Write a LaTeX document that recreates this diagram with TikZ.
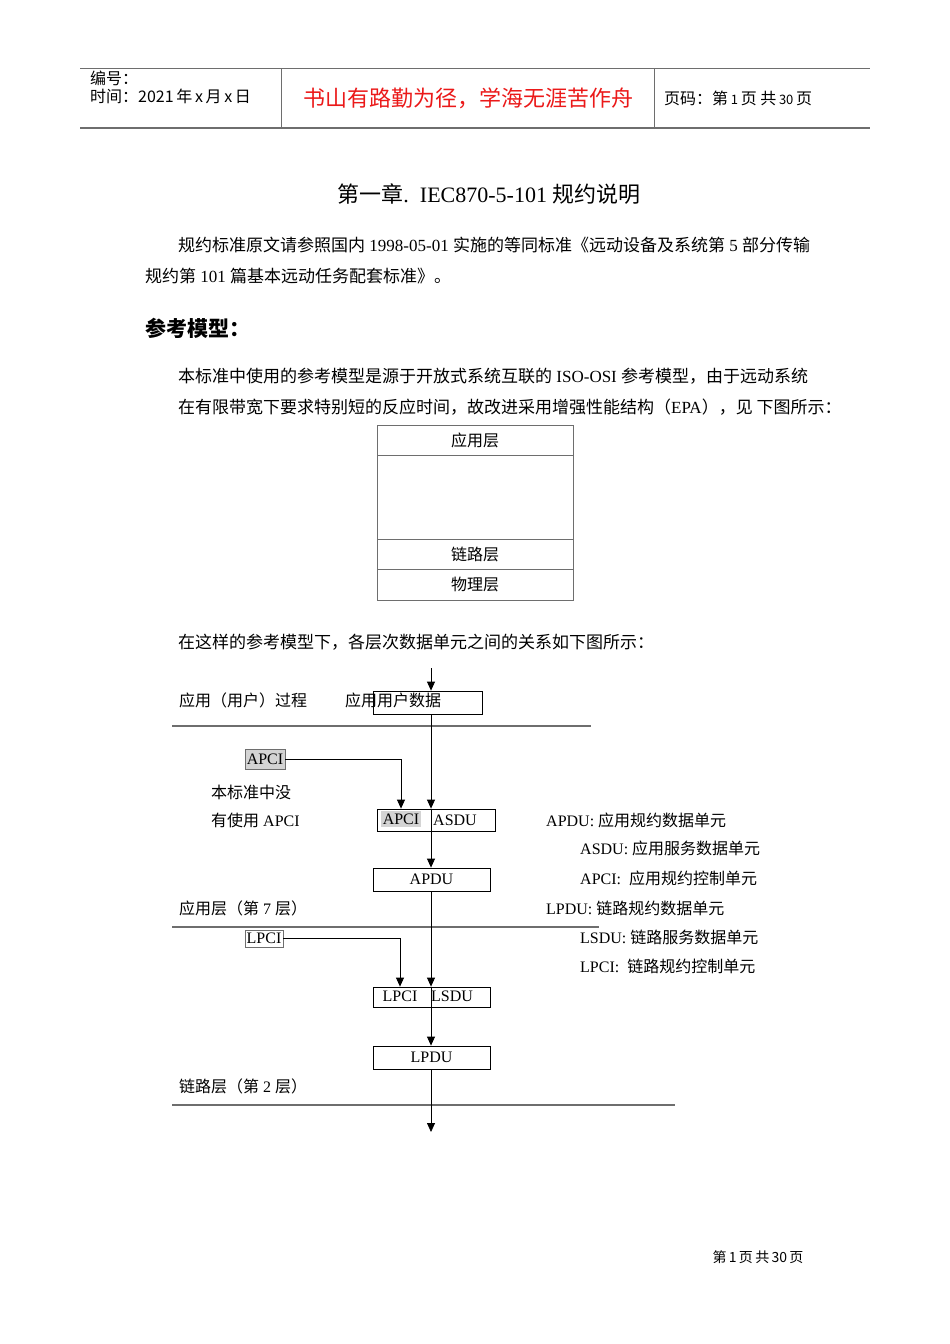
\documentclass[tikz,border=0pt]{standalone}
\usepackage{fontspec}
\setmainfont{Noto Sans CJK SC}
\newfontfamily\tnr{Liberation Serif}
\usetikzlibrary{positioning,arrows.meta}
\newcommand{\en}[1]{{\tnr #1}}
\newcommand{\bodyfont}{\fontsize{17}{20}\selectfont}
\newcommand{\figfont}{\fontsize{16}{19}\selectfont}
\newcommand{\headfont}{\fontsize{16}{18}\selectfont}
\definecolor{motto}{RGB}{235,25,25}
\definecolor{rulegray}{RGB}{110,110,110}
\definecolor{hlgray}{RGB}{212,212,212}

\begin{document}
\begin{tikzpicture}[x=1pt,y=-1pt,>={Triangle[length=9pt,width=8pt]}]
\tikzstyle{every node}=[font=\figfont, inner sep=0pt]
\tikzstyle{txt}=[anchor=west]
\tikzstyle{pdubox}=[draw, line width=0.8pt, minimum width=117pt, minimum height=23pt]
\tikzstyle{tagbox}=[draw=rulegray, line width=0.7pt, minimum height=18pt, font=\figfont\tnr]
\tikzstyle{layerbox}=[draw=rulegray, line width=0.9pt, minimum width=196pt, outer sep=0pt]
\tikzstyle{sepline}=[rulegray, line width=1.3pt]

% white page
\fill[white] (0,0) rectangle (950,1344);
\useasboundingbox (0,0) rectangle (950,1344);

% page header
\draw[rulegray, line width=0.8pt] (80,68) -- (870,68);
\draw[rulegray, line width=2pt] (80,128) -- (870,128);
\draw[rulegray, line width=0.8pt] (281,68) -- (281,128);
\draw[rulegray, line width=0.8pt] (654,68) -- (654,128);
\node[txt, font=\headfont] (serial) at (90,78) {编号：};
\node[txt, font=\headfont] (date) at (90,96) {时间：2021\,年\,x\,月\,x\,日};
\node[font=\fontsize{22}{24}\selectfont, text=motto] (motto) at (468,98) {书山有路勤为径，学海无涯苦作舟};
\node[txt, font=\headfont] (pageno) at (664,98) {页码：第\,{\fontsize{13}{15}\selectfont 1}\,页\ 共\,{\fontsize{13}{15}\selectfont 30}\,页};

% title and text
\node[font=\fontsize{22}{24}\selectfont] (title) at (489,194) {第一章\en{.\ \ IEC870-5-101 }规约说明};
\node[txt, font=\bodyfont] (para1a) at (178,245) {规约标准原文请参照国内\en{ 1998-05-01 }实施的等同标准《远动设备及系统第\en{ 5 }部分传输};
\node[txt, font=\bodyfont] (para1b) at (145,276) {规约第\en{ 101 }篇基本远动任务配套标准》。};
\node[txt, font=\fontsize{21}{24}\selectfont\bfseries] (refhead) at (145,328) {参考模型：};
\node[txt, font=\bodyfont] (para2a) at (178,376) {本标准中使用的参考模型是源于开放式系统互联的\en{ ISO-OSI }参考模型，由于远动系统};
\node[txt, font=\bodyfont] (para2b) at (178,407) {在有限带宽下要求特别短的反应时间，故改进采用增强性能结构（\en{EPA}），见 下图所示：};

% EPA layer model
\node[layerbox, minimum height=30pt] (app) at (475,440) {应用层};
\node[layerbox, minimum height=84pt, below=0pt of app] (empty) {};
\node[layerbox, minimum height=30pt, below=0pt of empty] (link) {链路层};
\node[layerbox, minimum height=31pt, below=0pt of link] (phys) {物理层};

\node[txt, font=\bodyfont] (para3) at (178,642) {在这样的参考模型下，各层次数据单元之间的关系如下图所示：};

% layer separators
\draw[sepline] (172,726) -- (591,726);
\draw[sepline] (172,927) -- (599,927);
\draw[sepline] (172,1105) -- (675,1105);

% user process
\coordinate (src) at (431,668);
\node[txt] (proc) at (179,700) {应用（用户）过程};
\node[pdubox, minimum width=109pt] (udata) at (427.5,702.5) {};
\node[txt] (udatatext) at (345,700) {应用用户数据};

% application layer
\node[tagbox, fill=hlgray, minimum width=40pt, minimum height=20pt] (apcitag) at (265,759) {APCI};
\node[txt] (note1) at (211,792) {本标准中没};
\node[txt] (note2) at (211,820) {有使用\en{ APCI}};
\node[pdubox, minimum width=118pt, minimum height=22pt] (asdubox) at (436,820) {};
\node[fill=hlgray, minimum width=40pt, minimum height=16pt, font=\figfont\tnr] (apcihl) at (401,819) {APCI};
\node[txt, font=\figfont\tnr] (asdutext) at (433,820) {ASDU};
\node[pdubox, font=\figfont\tnr] (apdu) at (431.5,879.5) {APDU};
\node[txt] (proc7) at (179,908) {应用层（第\en{ 7 }层）};

% link layer
\node[tagbox, fill=white, minimum width=38pt, minimum height=17pt] (lpcitag) at (264,938.5) {LPCI};
\node[pdubox, minimum height=20pt] (lsdubox) at (431.5,997) {};
\node[font=\figfont\tnr] (lpcitext) at (400,996) {LPCI};
\node[txt, font=\figfont\tnr] (lsdutext) at (431,996) {LSDU};
\node[pdubox, font=\figfont\tnr] (lpdu) at (431.5,1057.5) {LPDU};
\node[txt] (proc2) at (179,1086) {链路层（第\en{ 2 }层）};
\coordinate (sink) at (431,1132);

% legend
\node[txt] (lgapdu) at (546,820) {\en{APDU: }应用规约数据单元};
\node[txt] (lgasdu) at (580,848) {\en{ASDU: }应用服务数据单元};
\node[txt] (lgapci) at (580,878) {\en{APCI:\ \ }应用规约控制单元};
\node[txt] (lglpdu) at (546,908) {\en{LPDU: }链路规约数据单元};
\node[txt] (lglsdu) at (580,937) {\en{LSDU: }链路服务数据单元};
\node[txt] (lglpci) at (580,966) {\en{LPCI:\ \ }链路规约控制单元};

% data flow
\draw[->, line width=0.8pt] (src) -- (udata.north -| src);
\draw[->, line width=0.8pt] (udata.south -| src) -- (asdubox.north -| src);
\draw[->, line width=0.8pt] (asdubox.north -| src) -- (apdu.north -| src);
\draw[->, line width=0.8pt] (apdu.south -| src) -- (lsdubox.north -| src);
\draw[->, line width=0.8pt] (lsdubox.north -| src) -- (lpdu.north -| src);
\draw[->, line width=0.8pt] (lpdu.south -| src) -- (sink);
\draw[->, line width=0.8pt] (apcitag.east) -| (asdubox.north -| apcihl);
\draw[->, line width=0.8pt] (lpcitag.east) -| (lsdubox.north -| lpcitext);

% page footer
\node[font=\fontsize{14}{16}\selectfont] (footer) at (758,1257) {第\,1\,页\,共\,30\,页};

\end{tikzpicture}
\end{document}
